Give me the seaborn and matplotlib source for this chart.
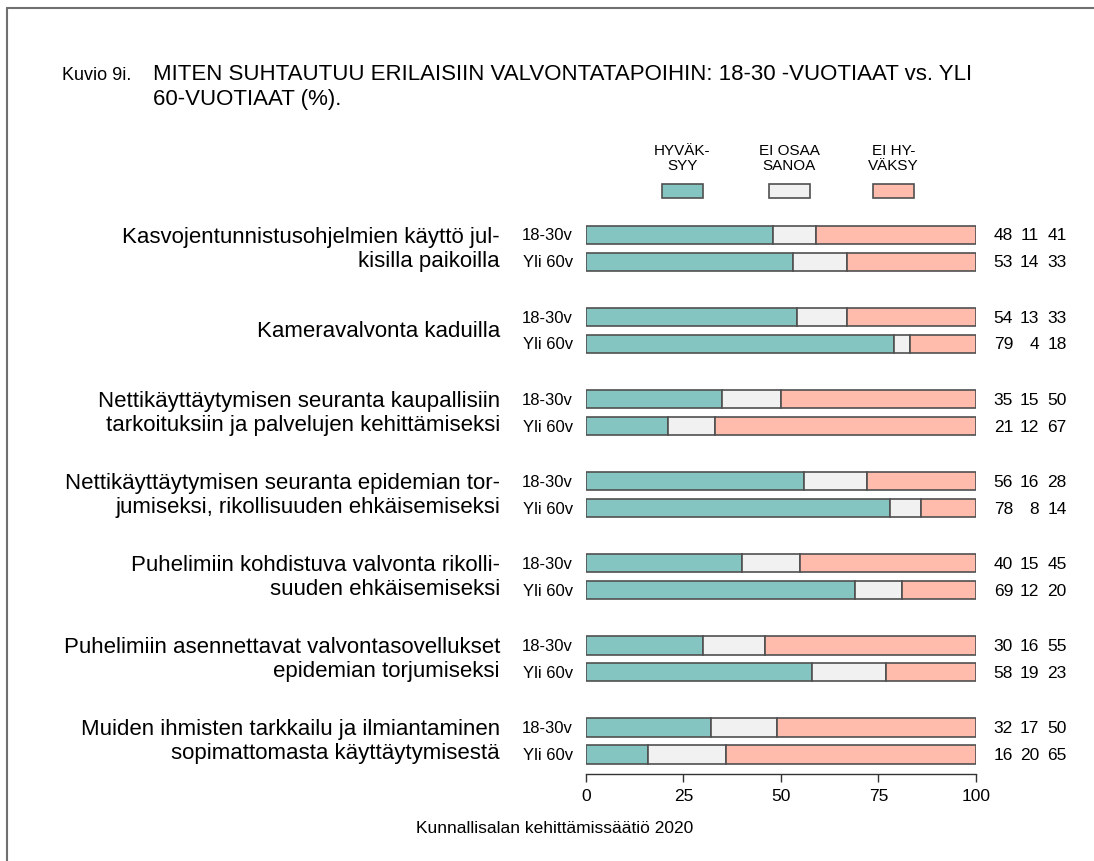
import pandas as pd
import seaborn as sns
import matplotlib.pyplot as plt
from matplotlib.patches import Rectangle
from matplotlib.lines import Line2D

# Data
items = [
    "Kasvojentunnistusohjelmien käyttö jul-\nkisilla paikoilla",
    "Kameravalvonta kaduilla",
    "Nettikäyttäytymisen seuranta kaupallisiin\ntarkoituksiin ja palvelujen kehittämiseksi",
    "Nettikäyttäytymisen seuranta epidemian tor-\njumiseksi, rikollisuuden ehkäisemiseksi",
    "Puhelimiin kohdistuva valvonta rikolli-\nsuuden ehkäisemiseksi",
    "Puhelimiin asennettavat valvontasovellukset\nepidemian torjumiseksi",
    "Muiden ihmisten tarkkailu ja ilmiantaminen\nsopimattomasta käyttäytymisestä",
]
groups = ["18-30v", "Yli 60v"]
approve_young = [48, 54, 35, 56, 40, 30, 32]
neutral_young = [11, 13, 15, 16, 15, 16, 17]
reject_young = [41, 33, 50, 28, 45, 55, 50]
approve_old = [53, 79, 21, 78, 69, 58, 16]
neutral_old = [14, 4, 12, 8, 12, 19, 20]
reject_old = [33, 18, 67, 14, 20, 23, 65]
series = ["HYVÄKSYY", "EI OSAA SANOA", "EI HYVÄKSY"]
legend_labels = ["HYVÄK-\nSYY", "EI OSAA\nSANOA", "EI HY-\nVÄKSY"]
colors = ["#84C5C1", "#F1F1F1", "#FFBBAB"]
source = "Kunnallisalan kehittämissäätiö 2020"

# build a long table: one row per item/age group
rows = []
for i, item in enumerate(items):
    for j, grp in enumerate(groups):
        a, n, r = ((approve_young[i], neutral_young[i], reject_young[i]) if j == 0
                   else (approve_old[i], neutral_old[i], reject_old[i]))
        rows.append({"item": i, "group": grp, "pos": i * 3.04 + j,
                     "HYVÄKSYY": a, "EI OSAA SANOA": n, "EI HYVÄKSY": r})
df = pd.DataFrame(rows).sort_values("pos").reset_index(drop=True)
df["start_HYVÄKSYY"] = 0
df["start_EI OSAA SANOA"] = df["HYVÄKSYY"]
df["start_EI HYVÄKSY"] = df["HYVÄKSYY"] + df["EI OSAA SANOA"]
# bars are shown as shares of 100 (labels are rounded), so the last segment fills up
df["draw_HYVÄKSYY"] = df["HYVÄKSYY"]
df["draw_EI OSAA SANOA"] = df["EI OSAA SANOA"]
df["draw_EI HYVÄKSY"] = 100 - df["start_EI HYVÄKSY"]

sns.set_theme(style="white")
plt.rcParams["font.family"] = ["Liberation Sans", "DejaVu Sans"]
plt.rcParams["text.color"] = "black"
plt.rcParams["xtick.color"] = "#333333"
plt.rcParams["xtick.labelcolor"] = "black"
plt.rcParams["xtick.bottom"] = True
plt.rcParams["xtick.major.size"] = 6
plt.rcParams["xtick.major.width"] = 1.0

fig = plt.figure(figsize=(10.94, 8.62), dpi=100)
ax = fig.add_axes([0.5356, 0.1009, 0.3565, 0.6441])

edge = "#505050"
for s, c in zip(series, colors):
    sns.barplot(data=df, x="draw_" + s, y="pos", orient="y", native_scale=True,
                width=0.70, color=c, edgecolor=edge, linewidth=1.2,
                left=df["start_" + s].values, saturation=1, ax=ax)

ax.set_xlim(0, 100)
ax.set_ylim(19.98, -0.6)
ax.set_xlabel("")
ax.set_ylabel("")
ax.set_yticks([])
for side in ["top", "right", "left"]:
    ax.spines[side].set_visible(False)
ax.spines["bottom"].set_bounds(0, 100)
ax.spines["bottom"].set_color("#333333")
ax.spines["bottom"].set_linewidth(1.0)
ax.set_xticks([0, 25, 50, 75, 100])
ax.tick_params(axis="x", bottom=True, direction="out", length=6, width=1.0,
               color="#333333", labelcolor="black", labelsize=12.5, pad=4)

# labels beside bars
for _, row in df.iterrows():
    ax.text(-3.4, row["pos"], row["group"], ha="right", va="center",
            fontsize=12, clip_on=False)
    for k, s in enumerate(series):
        ax.text([109.5, 116.2, 123.3][k], row["pos"], f"{row[s]:d}",
                ha="right", va="center", fontsize=12.5, clip_on=False)
for i, item in enumerate(items):
    ax.text(-22.05, i * 3.04 + 0.5, item, ha="right", va="center",
            fontsize=16, linespacing=1.2, clip_on=False)

# manual legend above the bars
for k, (lab, c) in enumerate(zip(legend_labels, colors)):
    x0 = [19.5, 46.9, 73.6][k]
    ax.add_patch(Rectangle((x0, -1.89), 10.5, 0.52, facecolor=c,
                           edgecolor=edge, linewidth=1.2, clip_on=False))
    ax.text(x0 + 5.25, -2.87, lab, ha="center", va="center", fontsize=11,
            linespacing=1.15, clip_on=False)

# titles and source
fig.text(62 / 1094, 1 - 76 / 862, "Kuvio 9i.", fontsize=13, va="center", ha="left")
fig.text(153 / 1094, 1 - 75 / 862,
         "MITEN SUHTAUTUU ERILAISIIN VALVONTATAPOIHIN: 18-30 -VUOTIAAT vs. YLI",
         fontsize=16, va="center", ha="left")
fig.text(153 / 1094, 1 - 100 / 862, "60-VUOTIAAT (%).",
         fontsize=16, va="center", ha="left")
fig.text(555 / 1094, 1 - 829 / 862, source, fontsize=12.5, ha="center", va="center")

# frame lines (left and top)
fig.add_artist(Line2D([7 / 1094, 7 / 1094], [0, 1 - 9 / 862], color="#707070", lw=1.5))
fig.add_artist(Line2D([7 / 1094, 1], [1 - 9 / 862, 1 - 9 / 862], color="#707070", lw=1.5))

fig.savefig("out.png", dpi=100)
